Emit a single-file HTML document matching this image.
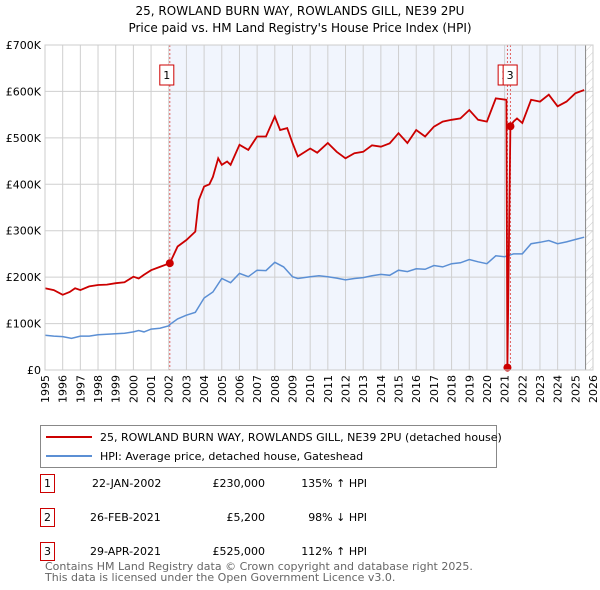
<!DOCTYPE html>
<html><head><meta charset="utf-8"><style>
body{margin:0;background:#fff;font-family:"Liberation Sans","DejaVu Sans",sans-serif;}
#wrap{position:relative;width:600px;height:590px;overflow:hidden}
</style></head><body>
<div id="wrap">
<svg id="chart" width="600" height="590" xmlns="http://www.w3.org/2000/svg" style="font-family:'DejaVu Sans','Liberation Sans',sans-serif">
<defs>
<pattern id="hatch" width="6" height="6" patternUnits="userSpaceOnUse" patternTransform="rotate(45)"><line x1="0" y1="0" x2="0" y2="6" stroke="#ccc" stroke-width="1"/></pattern>
</defs>
<text x="300" y="15" text-anchor="middle" font-size="12">25, ROWLAND BURN WAY, ROWLANDS GILL, NE39 2PU</text>
<text x="300" y="32" text-anchor="middle" font-size="12">Price paid vs. HM Land Registry's House Price Index (HPI)</text>
<g id="plot"></g>
<g id="legend">
<rect x="40.5" y="425.5" width="456" height="42" fill="#fff" stroke="#888"/>
<line x1="46" y1="437" x2="92" y2="437" stroke="#cc0000" stroke-width="2"/>
<text x="100" y="441" font-size="11">25, ROWLAND BURN WAY, ROWLANDS GILL, NE39 2PU (detached house)</text>
<line x1="46" y1="456" x2="92" y2="456" stroke="#5b8fd4" stroke-width="2"/>
<text x="100" y="460" font-size="11">HPI: Average price, detached house, Gateshead</text>
</g>
<g font-size="11">
<rect x="40.5" y="474.5" width="14" height="18" fill="#fff" stroke="#cc0000"/><text x="47.5" y="487" text-anchor="middle">1</text>
<text x="92" y="487">22-JAN-2002</text>
<text x="265" y="487" text-anchor="end">£230,000</text>
<text x="367" y="487" text-anchor="end">135% ↑ HPI</text>
<rect x="40.5" y="508.5" width="14" height="18" fill="#fff" stroke="#cc0000"/><text x="47.5" y="521" text-anchor="middle">2</text>
<text x="90" y="521">26-FEB-2021</text>
<text x="265" y="521" text-anchor="end">£5,200</text>
<text x="367" y="521" text-anchor="end">98% ↓ HPI</text>
<rect x="40.5" y="542.5" width="14" height="18" fill="#fff" stroke="#cc0000"/><text x="47.5" y="555" text-anchor="middle">3</text>
<text x="90" y="555">29-APR-2021</text>
<text x="265" y="555" text-anchor="end">£525,000</text>
<text x="367" y="555" text-anchor="end">112% ↑ HPI</text>
</g>
<text x="45" y="570" font-size="11" fill="#666">Contains HM Land Registry data © Crown copyright and database right 2025.</text>
<text x="45" y="581" font-size="11" fill="#666">This data is licensed under the Open Government Licence v3.0.</text>
</svg>
</div>
<script>
const hpiYears=[1995,1995.5,1996,1996.5,1997,1997.5,1998,1998.5,1999,1999.5,2000,2000.3,2000.6,2001,2001.5,2002,2002.06,2002.5,2003,2003.5,2004,2004.5,2005,2005.5,2006,2006.5,2007,2007.5,2008,2008.5,2009,2009.3,2010,2010.5,2011,2011.5,2012,2012.5,2013,2013.5,2014,2014.5,2015,2015.5,2016,2016.5,2017,2017.5,2018,2018.5,2019,2019.5,2020,2020.5,2021,2021.5,2022,2022.5,2023,2023.5,2024,2024.5,2025,2025.5];
const hpiValues=[75,73,72,68,73,73,76,77,78,79,82,85,82,88,90,95,98,110,118,124,155,168,197,188,208,201,215,214,232,222,201,197,201,203,201,198,194,197,199,203,206,204,215,212,218,217,225,222,229,231,238,233,229,246,244,250,250,272,275,279,272,276,281,286];
const priceYears=[1995,1995.5,1996,1996.4,1996.7,1997,1997.5,1998,1998.5,1999,1999.5,2000,2000.3,2000.6,2001,2001.5,2002.06,2002.5,2003,2003.5,2003.7,2004,2004.3,2004.5,2004.8,2005,2005.3,2005.5,2006,2006.5,2007,2007.5,2008,2008.3,2008.7,2009,2009.3,2010,2010.4,2011,2011.5,2012,2012.5,2013,2013.5,2014,2014.5,2015,2015.5,2016,2016.5,2017,2017.5,2018,2018.5,2019,2019.5,2020,2020.5,2021.1,2021.16,2021.33,2021.5,2021.7,2022,2022.5,2023,2023.5,2024,2024.5,2025,2025.5];
const priceValues=[176,172,162,168,176,172,180,183,184,187,189,201,197,205,215,222,230,266,280,298,366,395,400,416,456,442,449,442,485,474,503,503,546,517,521,489,460,477,468,489,470,456,467,470,484,481,488,510,489,517,503,524,535,539,542,560,539,535,585,582,5.2,525,535,542,532,582,578,593,568,578,596,603];
const saleYears=[2002.06,2021.16,2021.33];
const saleValues=[230,5.2,525];
const saleLabels=["1","2","3"];
const yTicks=[0,100,200,300,400,500,600,700];
const yTickLabels=["£0","£100K","£200K","£300K","£400K","£500K","£600K","£700K"];
const xTicks=[1995,1996,1997,1998,1999,2000,2001,2002,2003,2004,2005,2006,2007,2008,2009,2010,2011,2012,2013,2014,2015,2016,2017,2018,2019,2020,2021,2022,2023,2024,2025,2026];

const X0=45,X1=593,Y0=370,Y1=45;
const xs=y=>X0+(y-1995)/(2026-1995)*(X1-X0);
const ys=v=>Y0-v/700*(Y0-Y1);
const NS="http://www.w3.org/2000/svg";
const plot=document.getElementById('plot');
function mk(tag,at,parent){const e=document.createElementNS(NS,tag);for(const k in at)e.setAttribute(k,at[k]);(parent||plot).appendChild(e);return e;}
const futureStart=2025.58;
let e;
e=mk('rect',{x:xs(saleYears[0]),y:Y1,width:xs(futureStart)-xs(saleYears[0]),height:Y0-Y1,fill:'#f1f5fd'});


e=mk('rect',{x:xs(futureStart),y:Y1,width:X1-xs(futureStart),height:Y0-Y1,fill:'url(#hatch)'});


yTicks.forEach((t,i)=>{
 e=mk('line',{x1:X0,x2:X1,y1:ys(t),y2:ys(t),stroke:'#cfcfcf','stroke-width':1});
 
 
 e=mk('text',{x:X0-4,y:ys(t)+4,'text-anchor':'end','font-size':11});
 e.textContent=yTickLabels[i];
 
 
});
xTicks.forEach(t=>{
 e=mk('line',{x1:xs(t),x2:xs(t),y1:Y1,y2:Y0,stroke:'#cfcfcf','stroke-width':1});
 
 
 e=mk('text',{x:0,y:0,'text-anchor':'end','font-size':11,transform:`translate(${xs(t)+4},${Y0+5}) rotate(-90)`});
 e.textContent=t;
 
 
});
e=mk('line',{x1:xs(futureStart),x2:xs(futureStart),y1:Y1,y2:Y0,stroke:'#888','stroke-width':1});


saleYears.forEach(s=>{
 e=mk('line',{x1:xs(s),x2:xs(s),y1:Y1,y2:Y0,stroke:'#e06060','stroke-width':1,'stroke-dasharray':'2,2'});
 
 
});
e=mk('path',{d:hpiYears.map((y,i)=>(i?'L':'M')+xs(y).toFixed(1)+','+ys(hpiValues[i]).toFixed(1)).join(''),fill:'none',stroke:'#5b8fd4','stroke-width':1.5});


e=mk('path',{d:priceYears.map((y,i)=>(i?'L':'M')+xs(y).toFixed(1)+','+ys(priceValues[i]).toFixed(1)).join(''),fill:'none',stroke:'#cc0000','stroke-width':1.8});


saleYears.forEach((s,i)=>{
 e=mk('circle',{cx:xs(s),cy:ys(saleValues[i]),r:4,fill:'#cc0000'});
 
 
});
const boxOff=[0,0.7,2.7];
saleYears.forEach((s,i)=>{
 const cx=xs(s)+boxOff[i]-3;
 e=mk('rect',{x:cx-7,y:65,width:14,height:20,fill:'#fff',stroke:'#cc0000'});
 
 
 e=mk('text',{x:cx,y:79,'text-anchor':'middle','font-size':11});
 e.textContent=saleLabels[i];
 
 
});
e=mk('rect',{x:X0,y:Y1,width:X1-X0,height:Y0-Y1,fill:'none',stroke:'#ccc'});


</script>
</body></html>
